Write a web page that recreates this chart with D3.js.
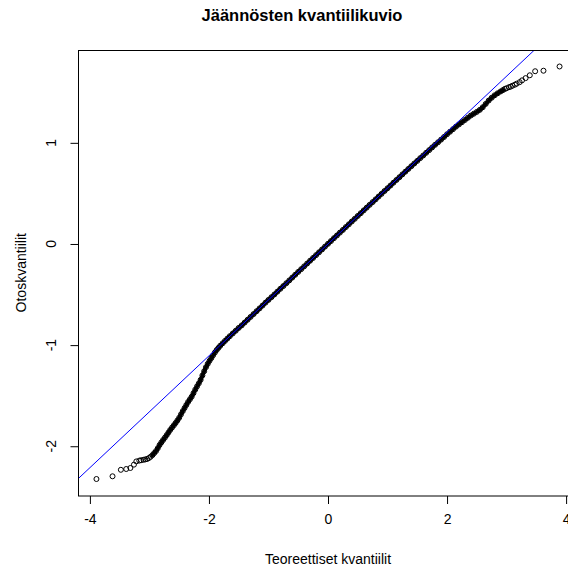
<!DOCTYPE html>
<html>
<head>
<meta charset="utf-8">
<script src="https://cdn.jsdelivr.net/npm/d3@7"></script>
<style>
  body { margin: 0; background: #fff; }
  svg { display: block; }
  text { font-family: "Liberation Sans", Arial, sans-serif; fill: #000; }
</style>
</head>
<body>
<svg id="chart" width="568" height="569"></svg>
<script>
// Normal QQ plot of model residuals: theoretical quantile vs. sample quantile
const theoretical = [
  -3.89, -3.62, -3.48, -3.39, -3.32, -3.26, -3.22, -3.17, -3.14, -3.10,
  -3.07, -3.04, -3.01, -2.98, -2.95, -2.92, -2.89, -2.86, -2.83, -2.80,
  -2.77, -2.74, -2.71, -2.68, -2.65, -2.62, -2.59, -2.56, -2.53, -2.50,
  -2.47, -2.44, -2.41, -2.38, -2.35, -2.32, -2.29, -2.26, -2.23, -2.20,
  -2.17, -2.14, -2.11, -2.08, -2.05, -2.02, -1.99, -1.96, -1.93, -1.90,
  -1.87, -1.84, -1.81, -1.77, -1.73, -1.69, -1.65, -1.60, -1.55, -1.50,
  -1.45, -1.40, -1.35, -1.30, -1.25, -1.20, -1.15, -1.10, -1.05, -1.00,
  -0.95, -0.90, -0.85, -0.80, -0.75, -0.70, -0.65, -0.60, -0.55, -0.50,
  -0.45, -0.40, -0.35, -0.30, -0.25, -0.20, -0.15, -0.10, -0.05, 0.00,
  0.05, 0.10, 0.15, 0.20, 0.25, 0.30, 0.35, 0.40, 0.45, 0.50,
  0.55, 0.60, 0.65, 0.70, 0.75, 0.80, 0.85, 0.90, 0.95, 1.00,
  1.05, 1.10, 1.15, 1.20, 1.25, 1.30, 1.35, 1.40, 1.45, 1.50,
  1.55, 1.60, 1.65, 1.70, 1.75, 1.80, 1.85, 1.90, 1.95, 2.00,
  2.05, 2.10, 2.15, 2.20, 2.25, 2.30, 2.35, 2.40, 2.45, 2.50,
  2.55, 2.60, 2.65, 2.70, 2.75, 2.80, 2.85, 2.90, 2.94, 2.97,
  3.00, 3.04, 3.07, 3.10, 3.14, 3.17, 3.22, 3.26, 3.32, 3.39,
  3.48, 3.62, 3.89
];
const sample = [
  -2.324, -2.297, -2.233, -2.225, -2.215, -2.182, -2.150, -2.142, -2.138, -2.134,
  -2.130, -2.126, -2.117, -2.104, -2.088, -2.068, -2.048, -2.020, -1.988, -1.962,
  -1.938, -1.915, -1.890, -1.864, -1.838, -1.815, -1.793, -1.770, -1.745, -1.718,
  -1.685, -1.653, -1.622, -1.592, -1.562, -1.536, -1.510, -1.475, -1.440, -1.408,
  -1.378, -1.344, -1.300, -1.258, -1.218, -1.185, -1.155, -1.128, -1.100, -1.073,
  -1.048, -1.027, -1.006, -0.982, -0.958, -0.935, -0.912, -0.885, -0.858, -0.830,
  -0.805, -0.777, -0.749, -0.721, -0.693, -0.665, -0.637, -0.609, -0.580, -0.553,
  -0.526, -0.499, -0.471, -0.443, -0.416, -0.388, -0.360, -0.332, -0.304, -0.276,
  -0.249, -0.221, -0.193, -0.165, -0.138, -0.110, -0.082, -0.054, -0.026, 0.002,
  0.029, 0.057, 0.084, 0.112, 0.139, 0.167, 0.194, 0.222, 0.249, 0.277,
  0.304, 0.332, 0.359, 0.387, 0.414, 0.441, 0.469, 0.496, 0.524, 0.551,
  0.578, 0.606, 0.633, 0.660, 0.688, 0.715, 0.742, 0.769, 0.796, 0.822,
  0.849, 0.875, 0.902, 0.928, 0.955, 0.981, 1.006, 1.032, 1.058, 1.085,
  1.110, 1.135, 1.160, 1.182, 1.204, 1.226, 1.248, 1.270, 1.288, 1.306,
  1.326, 1.352, 1.385, 1.418, 1.446, 1.470, 1.490, 1.508, 1.522, 1.533,
  1.540, 1.550, 1.556, 1.565, 1.575, 1.585, 1.600, 1.618, 1.640, 1.668,
  1.708, 1.713, 1.755
];
const xTicks = [-4, -2, 0, 2, 4];
const yTicks = [-2, -1, 0, 1];
// reference line through the quartiles
const lineIntercept = 0.0;
const lineSlope = 0.553;

const titleText = "Jäännösten kvantiilikuvio";
const xLabel = "Teoreettiset kvantiilit";
const yLabel = "Otoskvantiilit";

const svg = d3.select("#chart");
const plot = { left: 78, right: 578, top: 50, bottom: 495.5 };

const x = d3.scaleLinear().domain([-4.2, 4.2]).range([plot.left, plot.right]);
const y = d3.scaleLinear().domain([-2.487, 1.918]).range([plot.bottom, plot.top]);

const pts = theoretical.map((t, i) => ({ t, s: sample[i] }));

svg.append("defs").append("clipPath").attr("id", "plotClip")
  .append("rect")
  .attr("x", plot.left).attr("y", plot.top)
  .attr("width", plot.right - plot.left).attr("height", plot.bottom - plot.top);

const g = svg.append("g").attr("clip-path", "url(#plotClip)");

// the densest run of points merges into a solid band
const dense = pts.filter(d => Math.abs(d.t) <= 2.95);
g.append("path")
  .datum(dense)
  .attr("fill", "none")
  .attr("stroke", "#000")
  .attr("stroke-width", 4)
  .attr("stroke-linejoin", "round")
  .attr("stroke-linecap", "round")
  .attr("d", d3.line().x(d => x(d.t)).y(d => y(d.s)).curve(d3.curveMonotoneX));

g.selectAll("circle.pt")
  .data(pts)
  .join("circle")
  .attr("class", "pt")
  .attr("cx", d => x(d.t))
  .attr("cy", d => y(d.s))
  .attr("r", 2.5)
  .attr("fill", "none")
  .attr("stroke", "#000")
  .attr("stroke-width", 1);

// qq reference line
const [x0, x1] = x.domain();
g.append("line")
  .attr("x1", x(x0)).attr("y1", y(lineIntercept + lineSlope * x0))
  .attr("x2", x(x1)).attr("y2", y(lineIntercept + lineSlope * x1))
  .attr("stroke", "#0000ff")
  .attr("stroke-width", 1);

// frame
svg.append("rect")
  .attr("x", plot.left + 0.5).attr("y", plot.top + 0.5)
  .attr("width", plot.right - plot.left).attr("height", plot.bottom - plot.top)
  .attr("fill", "none").attr("stroke", "#000").attr("stroke-width", 1);

// x axis
const xAxis = svg.append("g")
  .attr("transform", `translate(0,${plot.bottom + 0.5})`)
  .call(d3.axisBottom(x).tickValues(xTicks).tickSize(8).tickPadding(10)
    .tickFormat(d => String(d)));
xAxis.select(".domain").remove();
xAxis.selectAll(".tick line").attr("stroke", "#000").attr("stroke-width", 1);
xAxis.selectAll(".tick text")
  .attr("font-size", 14)
  .attr("font-family", "Liberation Sans, Arial, sans-serif")
  .attr("fill", "#000");

// y axis, labels written parallel to the axis
const yAxis = svg.append("g")
  .attr("transform", `translate(${plot.left + 0.5},0)`)
  .call(d3.axisLeft(y).tickValues(yTicks).tickSize(8).tickFormat(""));
yAxis.select(".domain").remove();
yAxis.selectAll(".tick line").attr("stroke", "#000").attr("stroke-width", 1);

svg.append("g").selectAll("text")
  .data(yTicks)
  .join("text")
  .attr("transform", d => `translate(56,${y(d)}) rotate(-90)`)
  .attr("text-anchor", "middle")
  .attr("font-size", 14)
  .text(d => String(d));

// titles
svg.append("text")
  .attr("x", 302).attr("y", 21)
  .attr("text-anchor", "middle")
  .attr("font-size", 16.5)
  .attr("font-weight", "bold")
  .text(titleText);

svg.append("text")
  .attr("x", (plot.left + plot.right) / 2).attr("y", 564)
  .attr("text-anchor", "middle")
  .attr("font-size", 14)
  .text(xLabel);

svg.append("text")
  .attr("transform", `translate(26,${(plot.top + plot.bottom) / 2}) rotate(-90)`)
  .attr("text-anchor", "middle")
  .attr("font-size", 14)
  .text(yLabel);
</script>
</body>
</html>
